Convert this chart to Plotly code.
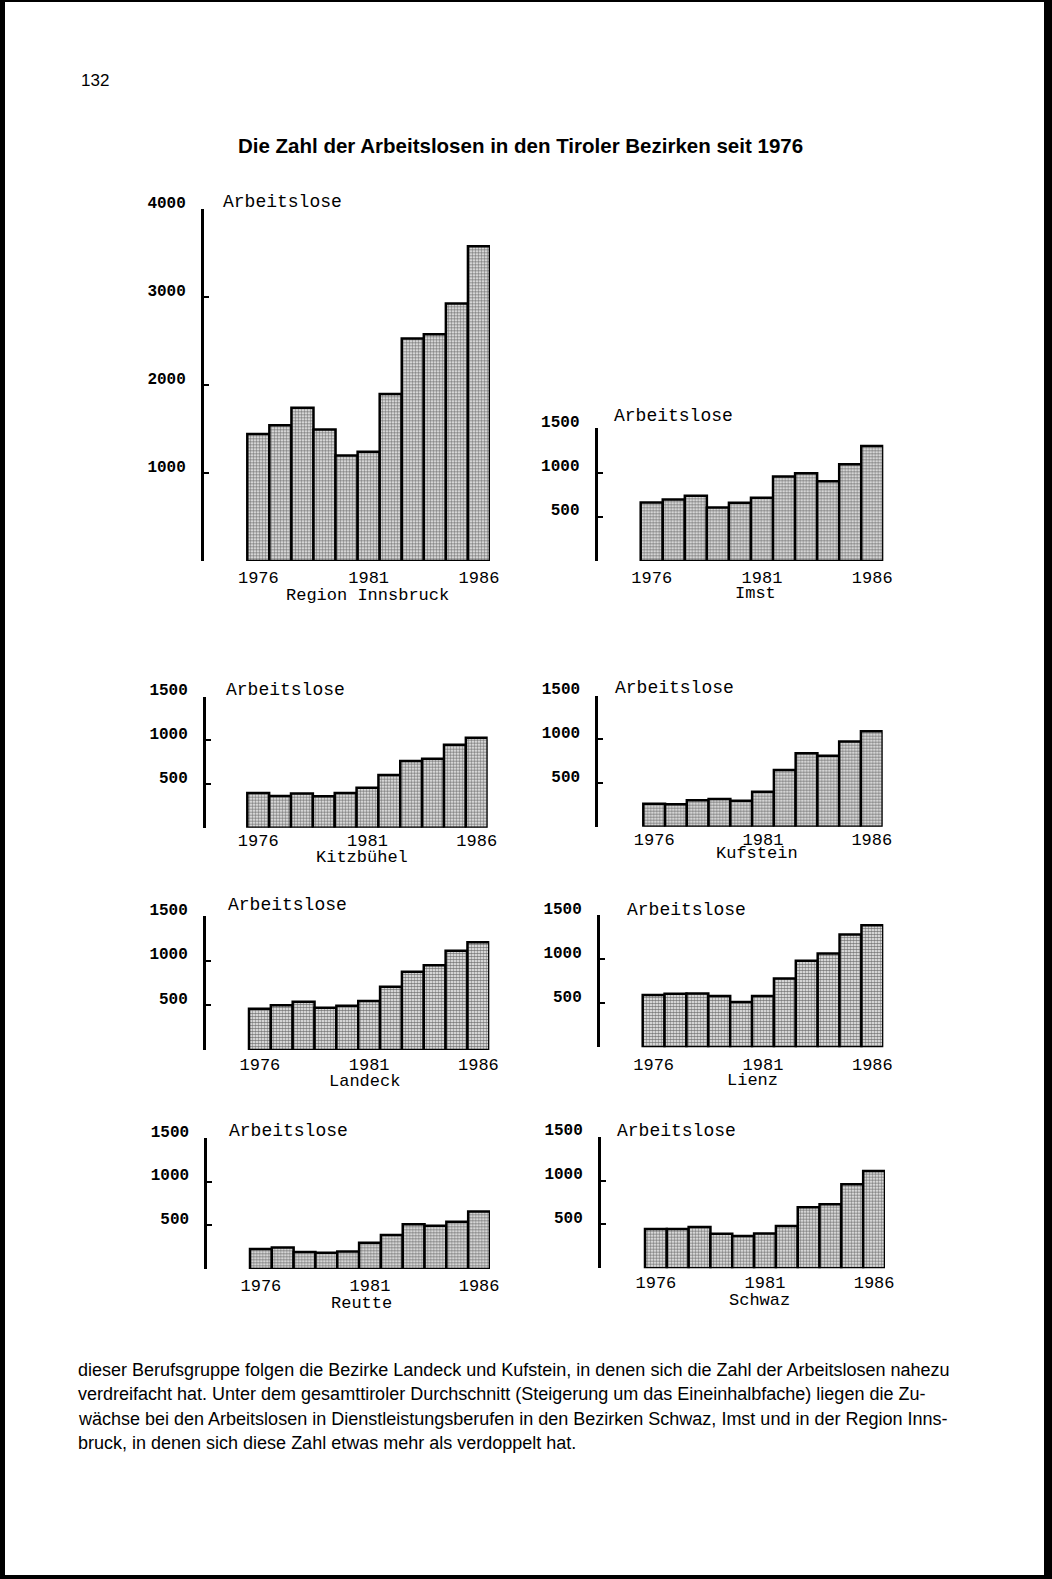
import plotly.graph_objects as go

W, H = 1052, 1579


def fx(p):
    return p / W


def fy(p):
    return 1 - p / H


years = list(range(1976, 1987))
year_ticks = [1976, 1981, 1986]

innsbruck = [1443, 1545, 1742, 1496, 1200, 1242, 1898, 2530, 2580, 2928, 3580]
imst      = [662, 695, 737, 605, 658, 714, 955, 992, 902, 1094, 1301]
kitzbuehel = [397, 363, 393, 359, 397, 458, 603, 763, 790, 950, 1031]
kufstein  = [263, 256, 302, 317, 298, 401, 649, 840, 813, 977, 1092]
landeck   = [463, 500, 541, 474, 496, 549, 709, 877, 948, 1112, 1205]
lienz     = [592, 608, 611, 581, 513, 581, 781, 981, 1064, 1279, 1385]
reutte    = [229, 248, 195, 187, 202, 302, 389, 515, 496, 542, 660]
schwaz    = [447, 447, 470, 394, 367, 398, 481, 697, 731, 958, 1110]

names = ["Region Innsbruck", "Imst", "Kitzbühel", "Kufstein",
         "Landeck", "Lienz", "Reutte", "Schwaz"]
series = [innsbruck, imst, kitzbuehel, kufstein, landeck, lienz, reutte, schwaz]
ymax_list = [4000, 1500, 1500, 1500, 1500, 1500, 1500, 1500]

# panel geometry in page pixels:
# axis_x, bar_start, bar_end, zero_y, top_y, arb_x, arb_y, name_x, name_y, year_off
geom = [
    (204, 247.3, 490, 561, 209.3, 221, 202, 367, 595, 15.7),
    (597.7, 640.7, 883.3, 561, 428.3, 611.7, 415.7, 755, 594, 15.7),
    (206, 247.3, 487.7, 827.7, 696.7, 224, 690, 362, 857.5, 10.3),
    (598.3, 643.3, 882.7, 826.7, 695.7, 613, 687.7, 757, 853.5, 9),
    (206, 249, 489.3, 1050, 916, 226, 905, 364, 1081, 14.3),
    (600, 642.7, 883.3, 1047.3, 915, 625, 910, 752.5, 1080.5, 17),
    (207.3, 250, 490, 1269, 1138.3, 226.7, 1131, 361, 1303.3, 16),
    (601, 645, 885, 1268.3, 1136.7, 615, 1131, 759, 1300.5, 14.4),
]

MONO = "Liberation Mono"
fig = go.Figure()
annotations = []

for i, (vals, name, ymax, g) in enumerate(zip(series, names, ymax_list, geom)):
    ax, bs, be, zy, ty, arbx, arby, nx, ny, yoff = g
    n = i + 1
    xa = "x" if n == 1 else f"x{n}"
    ya = "y" if n == 1 else f"y{n}"
    xkey = "xaxis" if n == 1 else f"xaxis{n}"
    ykey = "yaxis" if n == 1 else f"yaxis{n}"
    barw = (be - bs) / len(years)
    span_units = (be - ax) / barw
    fig.add_trace(go.Bar(
        x=years, y=vals, xaxis=xa, yaxis=ya, width=1.0,
        marker=dict(color="white",
                    line=dict(color="black", width=2.5),
                    pattern=dict(shape=".", fgcolor="#000000", bgcolor="#ffffff",
                                 size=3, solidity=0.65)),
        showlegend=False, hoverinfo="skip"))
    step = 1000 if ymax > 2000 else 500
    tv = list(range(0, ymax + 1, step))
    tt = [""] + [str(v) for v in tv[1:]]
    fig.layout[xkey] = dict(
        domain=[fx(ax), fx(be)], range=[years[-1] + 0.5 - span_units, years[-1] + 0.5],
        anchor=ya, showline=False, showgrid=False, zeroline=False, automargin=False,
        tickvals=year_ticks, ticktext=[str(v) for v in year_ticks], ticks="",
        tickfont=dict(family=MONO, size=17, color="black"),
        ticklabelstandoff=max(0, int(round(yoff - 12))))
    fig.layout[ykey] = dict(
        domain=[fy(zy), fy(ty)], range=[0, ymax], anchor=xa,
        showline=True, linecolor="black", linewidth=3, mirror=False,
        showgrid=False, zeroline=False, automargin=False,
        tickvals=tv, ticktext=tt, ticks="inside", ticklen=5, tickwidth=2,
        tickcolor="black",
        tickfont=dict(family=MONO, size=16, color="black", weight="bold"),
        ticklabelstandoff=12, ticklabelshift=-7)
    annotations.append(dict(text="Arbeitslose", x=fx(arbx), y=fy(arby),
                            xref="paper", yref="paper", xanchor="left", yanchor="middle",
                            showarrow=False, font=dict(family=MONO, size=18, color="black")))
    annotations.append(dict(text=name, x=fx(nx), y=fy(ny),
                            xref="paper", yref="paper", xanchor="center", yanchor="middle",
                            showarrow=False, font=dict(family=MONO, size=17, color="black")))

# page texts
annotations.append(dict(text="132", x=fx(79), y=fy(81), xref="paper", yref="paper",
                        xanchor="left", yanchor="middle", showarrow=False,
                        font=dict(family="Liberation Sans", size=17, color="black")))
annotations.append(dict(text="<b>Die Zahl der Arbeitslosen in den Tiroler Bezirken seit 1976</b>",
                        x=fx(520), y=fy(145), xref="paper", yref="paper",
                        xanchor="center", yanchor="middle", showarrow=False,
                        font=dict(family="Liberation Sans", size=20.5, color="black")))

body = [
    "dieser Berufsgruppe folgen die Bezirke Landeck und Kufstein, in denen sich die Zahl der Arbeitslosen nahezu",
    "verdreifacht hat. Unter dem gesamttiroler Durchschnitt (Steigerung um das Eineinhalbfache) liegen die Zu-",
    "wächse bei den Arbeitslosen in Dienstleistungsberufen in den Bezirken Schwaz, Imst und in der Region Inns-",
    "bruck, in denen sich diese Zahl etwas mehr als verdoppelt hat.",
]
for k, line in enumerate(body):
    annotations.append(dict(text=line, x=fx(76), y=fy(1370 + 24.3 * k),
                            xref="paper", yref="paper", xanchor="left", yanchor="middle",
                            showarrow=False,
                            font=dict(family="Liberation Sans", size=18, color="black")))

# scanned page black frame
shapes = [
    dict(type="rect", xref="paper", yref="paper", x0=0, x1=fx(5), y0=0, y1=1,
         fillcolor="black", line_width=0),
    dict(type="rect", xref="paper", yref="paper", x0=fx(1044), x1=1, y0=0, y1=1,
         fillcolor="black", line_width=0),
    dict(type="rect", xref="paper", yref="paper", x0=0, x1=1, y0=fy(2), y1=1,
         fillcolor="black", line_width=0),
    dict(type="rect", xref="paper", yref="paper", x0=0, x1=1, y0=0, y1=fy(1575),
         fillcolor="black", line_width=0),
]

fig.update_layout(width=W, height=H,
                  margin=dict(l=0, r=0, t=0, b=0, pad=0, autoexpand=False),
                  paper_bgcolor="white", plot_bgcolor="rgba(0,0,0,0)",
                  bargap=0, annotations=annotations, shapes=shapes)

fig.write_html("out.html", config={"displayModeBar": False, "staticPlot": True},
               post_script="document.body.style.margin='0';document.body.style.overflow='hidden';")
